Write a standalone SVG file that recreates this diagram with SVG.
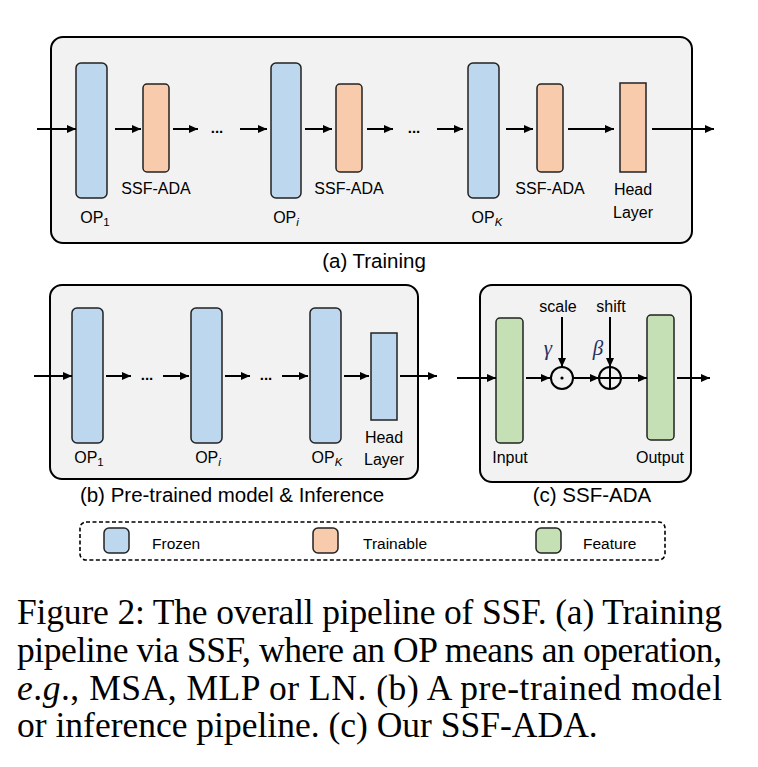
<svg xmlns="http://www.w3.org/2000/svg" width="758" height="767" viewBox="0 0 758 767">
<defs>
<style>
.panel{fill:#F2F2F2;stroke:#000;stroke-width:2}
.frozen{fill:#BDD7EE;stroke:#222;stroke-width:1.5}
.train{fill:#F8CBAD;stroke:#222;stroke-width:1.5}
.feat{fill:#C5E0B4;stroke:#222;stroke-width:1.5}
.lbl{font-family:"Liberation Sans",Arial,sans-serif;font-size:16px;fill:#000}
.cap{font-family:"Liberation Sans",Arial,sans-serif;font-size:20.5px;fill:#000}
.leg{font-family:"Liberation Sans",Arial,sans-serif;font-size:15.5px;fill:#000}
.dots{font-family:"Liberation Sans",Arial,sans-serif;font-size:15px;font-weight:bold;fill:#000}
.greek{font-family:"Liberation Serif","Times New Roman",serif;font-style:italic;font-size:21px;fill:#1F3060}
.body{font-family:"Liberation Serif","Times New Roman",serif;font-size:35.5px;fill:#000}
.conn line{stroke:#000;stroke-width:2}
</style>
<marker id="ah" markerUnits="userSpaceOnUse" markerWidth="9" markerHeight="8" refX="9" refY="4" orient="auto">
<path d="M0,0 L9,4 L0,8 z" fill="#000"/>
</marker>
</defs>

<!-- (a) Training -->
<g id="panel-a">
<rect class="panel" x="51" y="37" width="641" height="206" rx="12"/>
</g>
<g id="a-op1"><rect class="frozen" x="76" y="63" width="31" height="135" rx="5"/>
<text class="lbl" x="95" y="223" text-anchor="middle">OP<tspan font-size="11.5" dy="3">1</tspan></text></g>
<g id="a-ssf1"><rect class="train" x="143" y="84" width="26" height="88" rx="4"/>
<text class="lbl" x="156" y="194" text-anchor="middle">SSF-ADA</text></g>
<g id="a-opi"><rect class="frozen" x="271" y="63" width="30" height="135" rx="5"/>
<text class="lbl" x="286" y="223" text-anchor="middle">OP<tspan font-size="11.5" dy="3" font-style="italic">i</tspan></text></g>
<g id="a-ssf2"><rect class="train" x="336" y="84" width="26" height="88" rx="4"/>
<text class="lbl" x="349" y="194" text-anchor="middle">SSF-ADA</text></g>
<g id="a-opk"><rect class="frozen" x="468" y="63" width="31" height="135" rx="5"/>
<text class="lbl" x="487" y="223" text-anchor="middle">OP<tspan font-size="11.5" dy="3" font-style="italic">K</tspan></text></g>
<g id="a-ssf3"><rect class="train" x="537" y="84" width="26" height="88" rx="4"/>
<text class="lbl" x="550" y="194" text-anchor="middle">SSF-ADA</text></g>
<g id="a-head"><rect class="train" x="620" y="83" width="26" height="89"/>
<text class="lbl" x="633" y="195" text-anchor="middle">Head</text>
<text class="lbl" x="633" y="218" text-anchor="middle">Layer</text></g>
<text class="dots" x="217" y="133" text-anchor="middle">...</text>
<text class="dots" x="414" y="133" text-anchor="middle">...</text>
<text class="cap" x="374" y="268" text-anchor="middle">(a) Training</text>

<!-- (b) Pre-trained -->
<g id="panel-b">
<rect class="panel" x="50" y="285" width="368" height="194" rx="12"/>
</g>
<g id="b-op1"><rect class="frozen" x="72" y="308" width="31" height="135" rx="5"/>
<text class="lbl" x="89" y="463" text-anchor="middle">OP<tspan font-size="11.5" dy="3">1</tspan></text></g>
<g id="b-opi"><rect class="frozen" x="191" y="308" width="31" height="135" rx="5"/>
<text class="lbl" x="208" y="463" text-anchor="middle">OP<tspan font-size="11.5" dy="3" font-style="italic">i</tspan></text></g>
<g id="b-opk"><rect class="frozen" x="310" y="308" width="31" height="135" rx="5"/>
<text class="lbl" x="327" y="463" text-anchor="middle">OP<tspan font-size="11.5" dy="3" font-style="italic">K</tspan></text></g>
<g id="b-head"><rect class="frozen" x="371" y="333" width="26" height="87"/>
<text class="lbl" x="384" y="443" text-anchor="middle">Head</text>
<text class="lbl" x="384" y="465" text-anchor="middle">Layer</text></g>
<text class="dots" x="147" y="380" text-anchor="middle">...</text>
<text class="dots" x="266" y="380" text-anchor="middle">...</text>
<text class="cap" x="232" y="502" text-anchor="middle">(b) Pre-trained model &amp; Inference</text>

<!-- (c) SSF-ADA -->
<g id="panel-c">
<rect class="panel" x="480" y="285" width="211" height="197" rx="12"/>
</g>
<g id="c-input"><rect class="feat" x="496" y="318" width="27" height="125" rx="4"/>
<text class="lbl" x="510" y="463" text-anchor="middle">Input</text></g>
<g id="c-output"><rect class="feat" x="647" y="315" width="27" height="125" rx="4"/>
<text class="lbl" x="660" y="463" text-anchor="middle">Output</text></g>
<g id="c-scale"><circle cx="562" cy="378" r="11" fill="none" stroke="#000" stroke-width="2"/>
<circle cx="562" cy="378" r="1.6" fill="#000"/>
<text class="lbl" x="558" y="312" text-anchor="middle">scale</text>
<text class="greek" x="548" y="355" text-anchor="middle">γ</text></g>
<g id="c-shift"><circle cx="610" cy="378" r="11" fill="none" stroke="#000" stroke-width="2"/>
<line x1="599" y1="378" x2="621" y2="378" stroke="#000" stroke-width="2"/>
<line x1="610" y1="367" x2="610" y2="389" stroke="#000" stroke-width="2"/>
<text class="lbl" x="611" y="312" text-anchor="middle">shift</text>
<text class="greek" x="598" y="355" text-anchor="middle">β</text></g>
<text class="cap" x="592" y="502" text-anchor="middle">(c) SSF-ADA</text>

<!-- connectors -->
<g id="connectors" class="conn">
<line x1="37" y1="129" x2="76" y2="129" marker-end="url(#ah)"/>
<line x1="115" y1="129" x2="141" y2="129" marker-end="url(#ah)"/>
<line x1="173" y1="129" x2="198" y2="129" marker-end="url(#ah)"/>
<line x1="240" y1="129" x2="267" y2="129" marker-end="url(#ah)"/>
<line x1="305" y1="129" x2="332" y2="129" marker-end="url(#ah)"/>
<line x1="367" y1="129" x2="393" y2="129" marker-end="url(#ah)"/>
<line x1="437" y1="129" x2="463" y2="129" marker-end="url(#ah)"/>
<line x1="506" y1="129" x2="533" y2="129" marker-end="url(#ah)"/>
<line x1="568" y1="129" x2="614" y2="129" marker-end="url(#ah)"/>
<line x1="652" y1="129" x2="714" y2="129" marker-end="url(#ah)"/>

<line x1="34" y1="376" x2="72" y2="376" marker-end="url(#ah)"/>
<line x1="106" y1="376" x2="131" y2="376" marker-end="url(#ah)"/>
<line x1="163" y1="376" x2="189" y2="376" marker-end="url(#ah)"/>
<line x1="225" y1="376" x2="250" y2="376" marker-end="url(#ah)"/>
<line x1="282" y1="376" x2="308" y2="376" marker-end="url(#ah)"/>
<line x1="344" y1="376" x2="369" y2="376" marker-end="url(#ah)"/>
<line x1="400" y1="376" x2="437" y2="376" marker-end="url(#ah)"/>

<line x1="457" y1="378" x2="496" y2="378" marker-end="url(#ah)"/>
<line x1="526" y1="378" x2="550" y2="378" marker-end="url(#ah)"/>
<line x1="574" y1="378" x2="599" y2="378" marker-end="url(#ah)"/>
<line x1="622" y1="378" x2="647" y2="378" marker-end="url(#ah)"/>
<line x1="677" y1="378" x2="710" y2="378" marker-end="url(#ah)"/>
<line x1="562" y1="317" x2="562" y2="367" marker-end="url(#ah)"/>
<line x1="610" y1="317" x2="610" y2="367" marker-end="url(#ah)"/>
</g>

<!-- legend -->
<g id="legend">
<rect x="80" y="522" width="585" height="38" rx="6" fill="none" stroke="#000" stroke-width="1.6" stroke-dasharray="4,2.5"/>
<rect class="frozen" x="104" y="528" width="25" height="25" rx="5"/>
<text class="leg" x="152" y="549">Frozen</text>
<rect class="train" x="313" y="528" width="25" height="25" rx="5"/>
<text class="leg" x="363" y="549">Trainable</text>
<rect class="feat" x="536" y="528" width="25" height="25" rx="5"/>
<text class="leg" x="583" y="549">Feature</text>
</g>

<!-- figure caption -->
<g id="caption">
<text class="body" x="17" y="624" textLength="705" lengthAdjust="spacing">Figure 2: The overall pipeline of SSF. (a) Training</text>
<text class="body" x="17" y="662" textLength="705" lengthAdjust="spacing">pipeline via SSF, where an OP means an operation,</text>
<text class="body" x="17" y="700" textLength="705" lengthAdjust="spacing"><tspan font-style="italic">e</tspan>.<tspan font-style="italic">g</tspan>., MSA, MLP or LN. (b) A pre-trained model</text>
<text class="body" x="17" y="737">or inference pipeline. (c) Our SSF-ADA.</text>
</g>
</svg>
